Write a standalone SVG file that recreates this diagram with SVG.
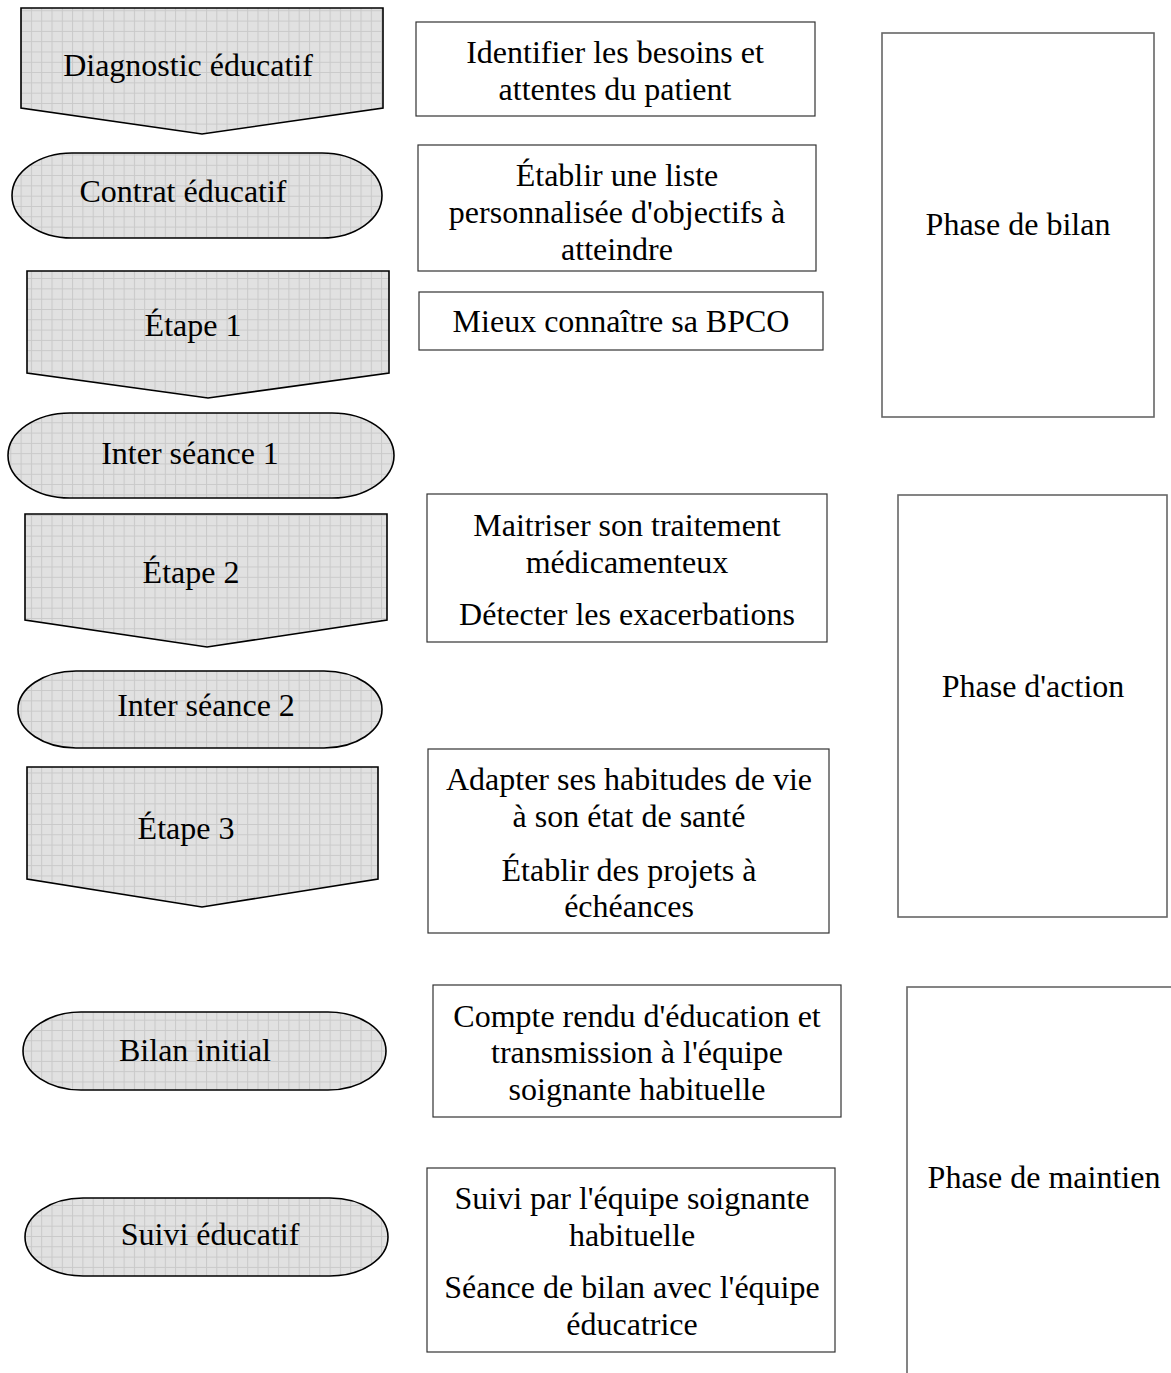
<svg xmlns="http://www.w3.org/2000/svg" width="1171" height="1373" viewBox="0 0 1171 1373">
<style>
text{font-family:"Liberation Serif","Times New Roman",serif;font-size:32px;fill:#000;text-anchor:middle}
.shape{fill:url(#grid);stroke:#000;stroke-width:1.6}
.box{fill:#fff;stroke:#333;stroke-width:1.2}
.phase{fill:#fff;stroke:#666;stroke-width:1.6}
</style>
<defs>
<pattern id="grid" patternUnits="userSpaceOnUse" width="10.3" height="10.3">
<rect width="10.3" height="10.3" fill="#e1e1e1"/>
<path d="M0 0.5H10.3M0.5 0V10.3" stroke="#c9c9c9" stroke-width="1" fill="none"/>
</pattern>
</defs>
<rect width="1171" height="1373" fill="#fff"/>
<g id="connectors"/>
<g id="diagnostic"><polygon class="shape" points="21,8 383,8 383,108 202,134 21,108"/><text x="188" y="76">Diagnostic éducatif</text></g>
<g id="contrat"><rect class="shape" x="12" y="153" width="370" height="85" rx="60" ry="42.5"/><text x="183" y="202">Contrat éducatif</text></g>
<g id="etape1"><polygon class="shape" points="27,271 389,271 389,373 208,398 27,373"/><text x="193" y="336">Étape 1</text></g>
<g id="inter1"><rect class="shape" x="8" y="413" width="386" height="85" rx="62" ry="42.5"/><text x="190" y="464">Inter séance 1</text></g>
<g id="etape2"><polygon class="shape" points="25,514 387,514 387,620 207,647 25,620"/><text x="191" y="583">Étape 2</text></g>
<g id="inter2"><rect class="shape" x="18" y="671" width="364" height="77" rx="58" ry="38.5"/><text x="206" y="716">Inter séance 2</text></g>
<g id="etape3"><polygon class="shape" points="27,767 378,767 378,879 202,907 27,879"/><text x="186" y="839">Étape 3</text></g>
<g id="bilan"><rect class="shape" x="23" y="1012" width="363" height="78" rx="58" ry="39"/><text x="195" y="1061">Bilan initial</text></g>
<g id="suivi"><rect class="shape" x="25" y="1198" width="363" height="78" rx="58" ry="39"/><text x="210" y="1245">Suivi éducatif</text></g>
<g id="obj1"><rect class="box" x="416" y="22" width="399" height="94"/><text x="615" y="63">Identifier les besoins et</text><text x="615" y="100">attentes du patient</text></g>
<g id="obj2"><rect class="box" x="418" y="145" width="398" height="126"/><text x="617" y="186">Établir une liste</text><text x="617" y="223">personnalisée d'objectifs à</text><text x="617" y="260">atteindre</text></g>
<g id="obj3"><rect class="box" x="419" y="292" width="404" height="58"/><text x="621" y="332">Mieux connaître sa BPCO</text></g>
<g id="obj4"><rect class="box" x="427" y="494" width="400" height="148"/><text x="627" y="536">Maitriser son traitement</text><text x="627" y="573">médicamenteux</text><text x="627" y="625">Détecter les exacerbations</text></g>
<g id="obj5"><rect class="box" x="428" y="749" width="401" height="184"/><text x="629" y="790">Adapter ses habitudes de vie</text><text x="629" y="827">à son état de santé</text><text x="629" y="881">Établir des projets à</text><text x="629" y="917">échéances</text></g>
<g id="obj6"><rect class="box" x="433" y="985" width="408" height="132"/><text x="637" y="1027">Compte rendu d'éducation et</text><text x="637" y="1063">transmission à l'équipe</text><text x="637" y="1100">soignante habituelle</text></g>
<g id="obj7"><rect class="box" x="427" y="1168" width="408" height="184"/><text x="632" y="1209">Suivi par l'équipe soignante</text><text x="632" y="1246">habituelle</text><text x="632" y="1298">Séance de bilan avec l'équipe</text><text x="632" y="1335">éducatrice</text></g>
<g id="phase-bilan"><rect class="phase" x="882" y="33" width="272" height="384"/><text x="1018" y="235">Phase de bilan</text></g>
<g id="phase-action"><rect class="phase" x="898" y="495" width="269" height="422"/><text x="1033" y="697">Phase d'action</text></g>
<g id="phase-maintien"><rect class="phase" x="907" y="987" width="300" height="420"/><text x="1044" y="1188">Phase de maintien</text></g>
</svg>
